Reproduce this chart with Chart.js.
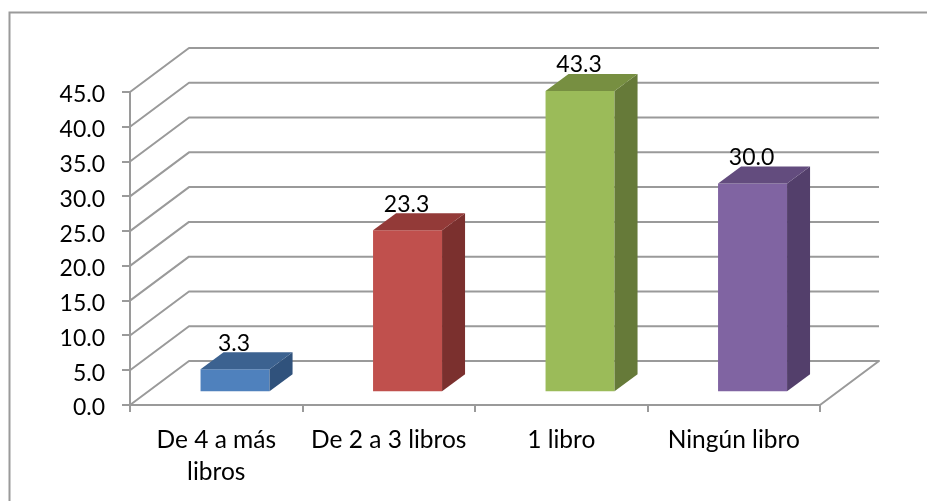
<!DOCTYPE html>
<html>
<head>
<meta charset="utf-8">
<title>Libros</title>
<script src="https://cdn.jsdelivr.net/npm/chart.js@4"></script>
<style>
  html, body { margin: 0; padding: 0; background: #fff; }
  canvas { display: block; }
</style>
</head>
<body>
<canvas id="libros" width="927" height="501"></canvas>
<script>
const categories = [["De 4 a más", "libros"], "De 2 a 3 libros", "1 libro", "Ningún libro"];
const values = [3.3, 23.3, 43.3, 30.0];
const yMax = 45;
const yStep = 5;

const frontColors = ["#4f81bd", "#c0504d", "#9bbb59", "#8064a2"];
const sideColors = ["#30527c", "#7b302e", "#667a39", "#533f6b"];
const topColors = ["#3c6290", "#933a38", "#778f41", "#634c7e"];

const lineColor = "#9a9a9a";
const fontName = "Lato, Carlito, 'Open Sans', sans-serif";

// depth of the whole floor, and of one bar standing in the middle of it
const wallDepth = { x: 59, y: 44 };
const barDepth = { x: 23, y: 17 };
const barShift = { x: 18.8, y: 12.8 };

const wallsPlugin = {
  id: "walls",
  beforeDraw(chart) {
    // the picture only keeps the top and left edge of the frame
    let ctx = chart.ctx;
    ctx.save();
    ctx.strokeStyle = lineColor;
    ctx.lineWidth = 2;
    ctx.beginPath();
    ctx.moveTo(9.5, chart.height);
    ctx.lineTo(9.5, 12.5);
    ctx.lineTo(chart.width, 12.5);
    ctx.stroke();
    ctx.restore();
  },
  beforeDatasetsDraw(chart) {
    let ctx = chart.ctx;
    let area = chart.chartArea;
    let y = chart.scales.y;
    ctx.save();
    ctx.strokeStyle = lineColor;
    ctx.lineWidth = 2;
    ctx.lineJoin = "round";
    y.ticks.forEach((tick) => {
      let py = y.getPixelForValue(tick.value);
      ctx.beginPath();
      ctx.moveTo(area.left, py);
      ctx.lineTo(area.left + wallDepth.x, py - wallDepth.y);
      ctx.lineTo(area.right + wallDepth.x, py - wallDepth.y);
      if (tick.value === 0) {
        ctx.lineTo(area.right, py);
      }
      ctx.stroke();
    });
    ctx.restore();
  },
};

const barsPlugin = {
  id: "bars3d",
  beforeDatasetDraw(chart) {
    // the library draws the front faces, pushed back onto the floor
    chart.ctx.save();
    chart.ctx.translate(barShift.x, -barShift.y);
  },
  afterDatasetDraw(chart, args) {
    let ctx = chart.ctx;
    args.meta.data.forEach((bar, i) => {
      let left = bar.x - bar.width / 2;
      let right = bar.x + bar.width / 2;

      ctx.fillStyle = sideColors[i];
      ctx.beginPath();
      ctx.moveTo(right, bar.y);
      ctx.lineTo(right + barDepth.x, bar.y - barDepth.y);
      ctx.lineTo(right + barDepth.x, bar.base - barDepth.y);
      ctx.lineTo(right, bar.base);
      ctx.closePath();
      ctx.fill();

      ctx.fillStyle = topColors[i];
      ctx.beginPath();
      ctx.moveTo(left, bar.y);
      ctx.lineTo(left + barDepth.x, bar.y - barDepth.y);
      ctx.lineTo(right + barDepth.x, bar.y - barDepth.y);
      ctx.lineTo(right, bar.y);
      ctx.closePath();
      ctx.fill();
    });
    ctx.restore();
  },
  afterDatasetsDraw(chart) {
    let ctx = chart.ctx;
    ctx.save();
    ctx.fillStyle = "#000";
    ctx.font = "23px " + fontName;
    ctx.textAlign = "center";
    ctx.textBaseline = "middle";
    chart.getDatasetMeta(0).data.forEach((bar, i) => {
      ctx.fillText(values[i].toFixed(1), bar.x + barShift.x - 1, bar.y - barShift.y - 26);
    });
    ctx.restore();
  },
};

new Chart(document.querySelector("#libros"), {
  type: "bar",
  data: {
    labels: categories,
    datasets: [
      {
        data: values,
        backgroundColor: frontColors,
        borderWidth: 0,
        categoryPercentage: 1,
        barPercentage: 0.4,
        clip: false,
      },
    ],
  },
  plugins: [wallsPlugin, barsPlugin],
  options: {
    responsive: false,
    animation: false,
    layout: { padding: { top: 92, right: 107, left: 0, bottom: 0 } },
    plugins: { legend: { display: false }, tooltip: { enabled: false } },
    scales: {
      x: {
        afterFit(scale) {
          scale.height = 96;
        },
        grid: { drawOnChartArea: false, color: lineColor, lineWidth: 2, tickLength: 7 },
        border: { color: lineColor, width: 2 },
        ticks: {
          color: "#000",
          font: { family: fontName, size: 24.5, lineHeight: 1.3 },
          padding: 12,
          maxRotation: 0,
          minRotation: 0,
          autoSkip: false,
        },
      },
      y: {
        min: 0,
        max: yMax,
        afterFit(scale) {
          scale.width = 130;
        },
        grid: { drawOnChartArea: false, color: lineColor, lineWidth: 2, tickLength: 8 },
        border: { color: lineColor, width: 2 },
        ticks: {
          stepSize: yStep,
          color: "#000",
          font: { family: fontName, size: 23 },
          padding: 17,
          labelOffset: 3,
          callback: (v) => v.toFixed(1),
        },
      },
    },
  },
});
</script>
</body>
</html>
